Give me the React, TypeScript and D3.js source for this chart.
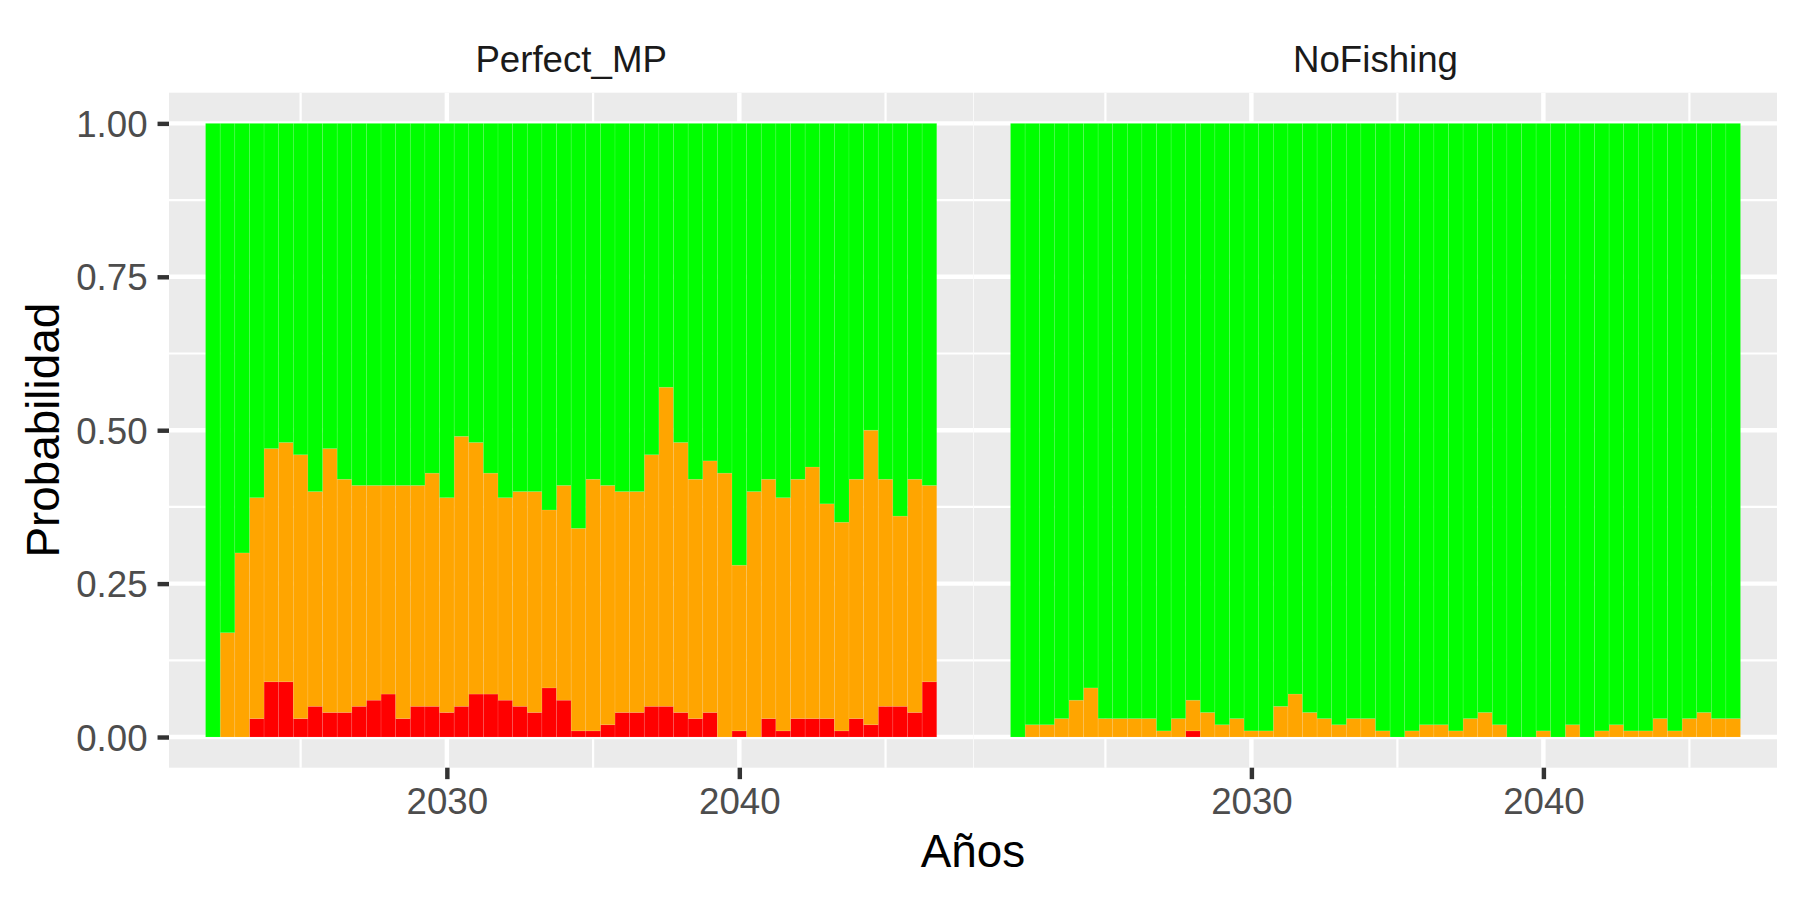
import React, { useRef, useEffect } from "react";
import * as d3 from "d3";

// half-year steps shown on the x axis
const periods = [
  2022, 2022.5, 2023, 2023.5, 2024, 2024.5, 2025, 2025.5, 2026, 2026.5,
  2027, 2027.5, 2028, 2028.5, 2029, 2029.5, 2030, 2030.5, 2031, 2031.5,
  2032, 2032.5, 2033, 2033.5, 2034, 2034.5, 2035, 2035.5, 2036, 2036.5,
  2037, 2037.5, 2038, 2038.5, 2039, 2039.5, 2040, 2040.5, 2041, 2041.5,
  2042, 2042.5, 2043, 2043.5, 2044, 2044.5, 2045, 2045.5, 2046, 2046.5,
];

const panelNames = ["Perfect_MP", "NoFishing"];

// probability of the red state
const redPerfect = [
  0, 0, 0, 0.03, 0.09, 0.09, 0.03, 0.05, 0.04, 0.04,
  0.05, 0.06, 0.07, 0.03, 0.05, 0.05, 0.04, 0.05, 0.07, 0.07,
  0.06, 0.05, 0.04, 0.08, 0.06, 0.01, 0.01, 0.02, 0.04, 0.04,
  0.05, 0.05, 0.04, 0.03, 0.04, 0, 0.01, 0, 0.03, 0.01,
  0.03, 0.03, 0.03, 0.01, 0.03, 0.02, 0.05, 0.05, 0.04, 0.09,
];

// probability of the orange state
const orangePerfect = [
  0, 0.17, 0.3, 0.36, 0.38, 0.39, 0.43, 0.35, 0.43, 0.38,
  0.36, 0.35, 0.34, 0.38, 0.36, 0.38, 0.35, 0.44, 0.41, 0.36,
  0.33, 0.35, 0.36, 0.29, 0.35, 0.33, 0.41, 0.39, 0.36, 0.36,
  0.41, 0.52, 0.44, 0.39, 0.41, 0.43, 0.27, 0.4, 0.39, 0.38,
  0.39, 0.41, 0.35, 0.34, 0.39, 0.48, 0.37, 0.31, 0.38, 0.32,
];

const redNoFishing = [
  0, 0, 0, 0, 0, 0, 0, 0, 0, 0,
  0, 0, 0.01, 0, 0, 0, 0, 0, 0, 0,
  0, 0, 0, 0, 0, 0, 0, 0, 0, 0,
  0, 0, 0, 0, 0, 0, 0, 0, 0, 0,
  0, 0, 0, 0, 0, 0, 0, 0, 0, 0,
];

const orangeNoFishing = [
  0, 0.02, 0.02, 0.03, 0.06, 0.08, 0.03, 0.03, 0.03, 0.03,
  0.01, 0.03, 0.05, 0.04, 0.02, 0.03, 0.01, 0.01, 0.05, 0.07,
  0.04, 0.03, 0.02, 0.03, 0.03, 0.01, 0, 0.01, 0.02, 0.02,
  0.01, 0.03, 0.04, 0.02, 0, 0, 0.01, 0, 0.02, 0,
  0.01, 0.02, 0.01, 0.01, 0.03, 0.01, 0.03, 0.04, 0.03, 0.03,
];

const yTicks = [0, 0.25, 0.5, 0.75, 1];
const yMinor = [0.125, 0.375, 0.625, 0.875];
const xTicks = [2030, 2040];
const xMinor = [2025, 2035, 2045];

const stateColors = { red: "#FF0000", orange: "#FFA500", green: "#00FF00" };

const FONT = "'Liberation Sans', Arial, Helvetica, sans-serif";

const App = () => {
  const svgRef = useRef(null);
  const width = 1800;
  const height = 900;

  useEffect(() => {
    const svg = d3.select(svgRef.current);
    svg.selectAll("*").remove();

    const top = 92.7;
    const bottom = 767.7;
    const panelX = [
      [169, 973.3],
      [974, 1777],
    ];
    const series = [
      { red: redPerfect, orange: orangePerfect },
      { red: redNoFishing, orange: orangeNoFishing },
    ];

    const yScale = d3.scaleLinear().domain([-0.05, 1.05]).range([bottom, top]);

    svg.append("rect").attr("width", width).attr("height", height).attr("fill", "white");

    panelNames.forEach((name, p) => {
      const [x0, x1] = panelX[p];
      const xScale = d3.scaleLinear().domain([2020.5, 2048]).range([x0, x1]);
      const g = svg.append("g");

      // panel background + grid
      g.append("rect")
        .attr("x", x0)
        .attr("y", top)
        .attr("width", x1 - x0)
        .attr("height", bottom - top)
        .attr("fill", "#EBEBEB");

      yMinor.forEach((v) => {
        g.append("line")
          .attr("x1", x0).attr("x2", x1)
          .attr("y1", yScale(v)).attr("y2", yScale(v))
          .attr("stroke", "white").attr("stroke-width", 2.22);
      });
      xMinor.forEach((v) => {
        g.append("line")
          .attr("x1", xScale(v)).attr("x2", xScale(v))
          .attr("y1", top).attr("y2", bottom)
          .attr("stroke", "white").attr("stroke-width", 2.22);
      });
      yTicks.forEach((v) => {
        g.append("line")
          .attr("x1", x0).attr("x2", x1)
          .attr("y1", yScale(v)).attr("y2", yScale(v))
          .attr("stroke", "white").attr("stroke-width", 4.44);
      });
      xTicks.forEach((v) => {
        g.append("line")
          .attr("x1", xScale(v)).attr("x2", xScale(v))
          .attr("y1", top).attr("y2", bottom)
          .attr("stroke", "white").attr("stroke-width", 4.44);
      });

      // stacked bars: red at the bottom, then orange, green fills to 1
      const rows = periods.map((period, i) => ({
        period,
        red: series[p].red[i],
        orange: series[p].orange[i],
        green: 1 - series[p].red[i] - series[p].orange[i],
      }));
      const stacked = d3.stack().keys(["red", "orange", "green"])(rows);

      stacked.forEach((layer) => {
        g.append("g")
          .selectAll("rect")
          .data(layer)
          .join("rect")
          .attr("x", (d) => xScale(d.data.period - 0.25))
          .attr("width", (d) => xScale(d.data.period + 0.25) - xScale(d.data.period - 0.25))
          .attr("y", (d) => yScale(d[1]))
          .attr("height", (d) => Math.max(0, yScale(d[0]) - yScale(d[1])))
          .attr("fill", stateColors[layer.key])
          .attr("stroke", "rgba(255,255,255,0.14)")
          .attr("stroke-width", 0.7);
      });

      // strip label
      svg
        .append("text")
        .attr("x", (x0 + x1) / 2)
        .attr("y", 72)
        .attr("text-anchor", "middle")
        .style("font-family", FONT)
        .style("font-size", "36.67px")
        .style("fill", "#1A1A1A")
        .text(name);

      // x axis
      const xAxis = svg
        .append("g")
        .attr("transform", `translate(0, ${bottom})`)
        .call(d3.axisBottom(xScale).tickValues(xTicks).tickFormat(d3.format("d")).tickSize(11.46).tickPadding(9.2));
      xAxis.select(".domain").remove();
      xAxis.selectAll("line").attr("stroke", "#333333").attr("stroke-width", 4.44);
      xAxis
        .selectAll("text")
        .style("font-family", FONT)
        .style("font-size", "36.67px")
        .attr("fill", "#4D4D4D");

      // y axis only on the first panel
      if (p === 0) {
        const yAxis = svg
          .append("g")
          .attr("transform", `translate(${x0}, 0)`)
          .call(d3.axisLeft(yScale).tickValues(yTicks).tickFormat(d3.format(".2f")).tickSize(11.46).tickPadding(10));
        yAxis.select(".domain").remove();
        yAxis.selectAll("line").attr("stroke", "#333333").attr("stroke-width", 4.44);
        yAxis
          .selectAll("text")
          .attr("dy", "0.36em")
          .style("font-family", FONT)
          .style("font-size", "36.67px")
          .attr("fill", "#4D4D4D");
      }
    });

    // x-axis title
    svg
      .append("text")
      .attr("x", (panelX[0][0] + panelX[1][1]) / 2)
      .attr("y", 866.7)
      .attr("text-anchor", "middle")
      .style("font-family", FONT)
      .style("font-size", "45.83px")
      .style("fill", "black")
      .text("Años");

    // y-axis title
    svg
      .append("text")
      .attr("transform", `translate(59, ${(top + bottom) / 2}) rotate(-90)`)
      .attr("text-anchor", "middle")
      .style("font-family", FONT)
      .style("font-size", "45.83px")
      .style("fill", "black")
      .text("Probabilidad");
  }, []);

  return (
    <svg
      ref={svgRef}
      width={width}
      height={height}
      style={{ position: "absolute", left: 0, top: 0, display: "block" }}
    />
  );
};

export default App;
